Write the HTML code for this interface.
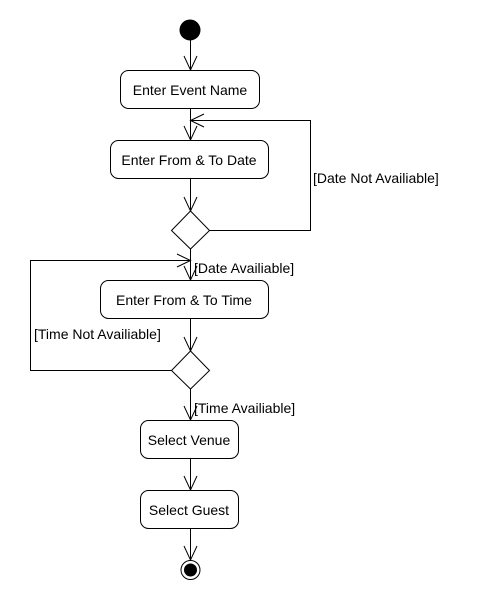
<!DOCTYPE html>
<html><head><style>body{margin:0;background:#fff}</style></head><body>
<svg width="480" height="600" xmlns="http://www.w3.org/2000/svg" font-family="Liberation Sans, Arial, sans-serif" font-size="14">
<rect width="480" height="600" fill="#fff"/>
<g stroke="#000" stroke-width="1" fill="none">
<circle cx="190" cy="30" r="10" fill="#000"/>
<line x1="190.5" y1="40" x2="190.5" y2="70"/><path d="M184 56 L190.5 70 L197 56"/>
<rect x="120.5" y="70.5" width="139" height="38" rx="8" fill="#fff"/>
<line x1="190.5" y1="109" x2="190.5" y2="140"/><path d="M184 126 L190.5 140 L197 126"/>
<rect x="110.5" y="140.5" width="158" height="38" rx="8" fill="#fff"/>
<line x1="190.5" y1="179" x2="190.5" y2="211"/><path d="M184 197 L190.5 211 L197 197"/>
<path d="M190.5 211 L209.5 230.5 L190.5 249 L171.5 230.5 Z" fill="#fff"/>
<path d="M209.5 230.5 H310.5 V120.5 H190.5"/><path d="M204 114 L190.5 120.5 L204 127"/>
<line x1="190.5" y1="249" x2="190.5" y2="280"/><path d="M184 266 L190.5 280 L197 266"/>
<path d="M190.5 370.5 H30.5 V260.5 H190.5"/><path d="M177 254 L190.5 260.5 L177 267"/>
<rect x="100.5" y="280.5" width="168" height="38" rx="8" fill="#fff"/>
<line x1="190.5" y1="319" x2="190.5" y2="351"/><path d="M184 337 L190.5 351 L197 337"/>
<path d="M190.5 351 L209.5 370.5 L190.5 389 L171.5 370.5 Z" fill="#fff"/>
<line x1="190.5" y1="389" x2="190.5" y2="420"/><path d="M184 406 L190.5 420 L197 406"/>
<rect x="140.5" y="420.5" width="98" height="38" rx="8" fill="#fff"/>
<line x1="190.5" y1="459" x2="190.5" y2="490"/><path d="M184 476 L190.5 490 L197 476"/>
<rect x="140.5" y="490.5" width="98" height="38" rx="8" fill="#fff"/>
<line x1="190.5" y1="529" x2="190.5" y2="560"/><path d="M184 546 L190.5 560 L197 546"/>
<circle cx="190.5" cy="570" r="9.5" fill="#fff"/>
<circle cx="190.5" cy="570" r="6" fill="#000"/>
</g>
<g fill="#000">
<text x="190" y="95" text-anchor="middle">Enter Event Name</text>
<text x="189" y="165" text-anchor="middle">Enter From &amp; To Date</text>
<text x="184" y="305" text-anchor="middle">Enter From &amp; To Time</text>
<text x="189" y="445" text-anchor="middle">Select Venue</text>
<text x="189" y="515" text-anchor="middle">Select Guest</text>
<text x="313" y="183">[Date Not Availiable]</text>
<text x="194" y="273">[Date Availiable]</text>
<text x="34" y="339">[Time Not Availiable]</text>
<text x="194" y="413">[Time Availiable]</text>
</g>
</svg>
</body></html>
